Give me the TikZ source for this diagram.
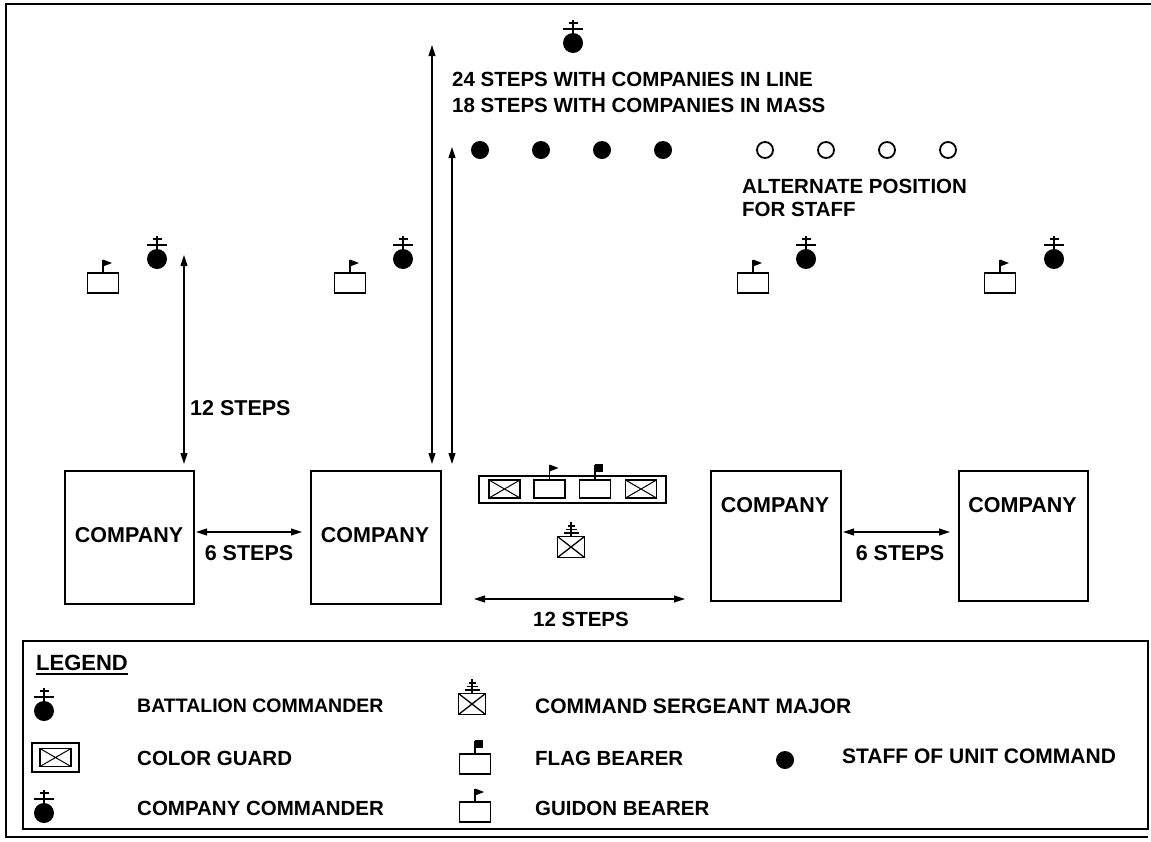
\documentclass[tikz,border=0pt]{standalone}
\usepackage{fontspec}
\setmainfont{Liberation Sans}
\usetikzlibrary{arrows.meta,calc}
\begin{document}
\begin{tikzpicture}[x=1pt,y=-1pt,
  lbl/.style={font=\bfseries\fontsize{20.5}{24}\selectfont, inner sep=0pt},
  lbll/.style={lbl, anchor=west},
  big/.style={font=\bfseries\fontsize{21.5}{25}\selectfont},
  dim/.style={{Triangle[length=11pt,width=7pt]}-{Triangle[length=11pt,width=7pt]}, line width=1.1pt},
  sym/.style={line width=1.7pt},
  cobox/.style={draw, line width=1.6pt, inner sep=0pt, anchor=north west},
  commander/.pic={
    \fill (0,0) circle (10);
    \draw[sym] (0,-8) -- (0,-23.5);
    \draw[sym] (-4.5,-20) -- (4.5,-20);
    \draw[sym] (-10,-14) -- (10,-14);
  },
  guidon/.pic={
    \draw[sym] (-15.5,-10) rectangle (15.5,10);
    \draw[sym] (0,-10) -- (0,-23);
    \fill (0,-23.5) -- (9,-20) -- (0,-16.5) -- cycle;
  },
  flagb/.pic={
    \draw[sym] (-15.5,-10) rectangle (15.5,10);
    \draw[sym] (0,-10) -- (0,-23);
    \fill (0,-24) rectangle (8,-16.5);
  },
  csm/.pic={
    \draw[sym] (-13.5,-10.5) rectangle (13.5,10.5);
    \draw[line width=1.3pt] (-13.5,-10.5) -- (13.5,10.5) (-13.5,10.5) -- (13.5,-10.5);
    \draw[sym] (0,-10.5) -- (0,-25.5);
    \draw[sym] (-3.5,-21) -- (3.5,-21);
    \draw[sym] (-5.5,-17.5) -- (5.5,-17.5);
    \draw[sym] (-7.5,-14) -- (7.5,-14);
  },
  xbox/.pic={
    \draw[line width=1.2pt] (-15.5,-9) rectangle (15.5,9);
    \draw[line width=1pt] (-15.5,-9) -- (15.5,9) (-15.5,9) -- (15.5,-9);
  },
  pbox/.pic={
    \draw[line width=1.2pt] (-15.5,-9) rectangle (15.5,9);
  },
  staff/.style={circle, fill, inner sep=0pt, minimum size=18pt},
  altstaff/.style={circle, draw, line width=1.8pt, inner sep=0pt, minimum size=16pt},
]
\useasboundingbox (0,0) rectangle (1151,841);
\fill[white] (0,0) rectangle (1151,841);

% outer frame
\draw[line width=2.5pt] (1151,4) -- (6,4) -- (6,837) -- (1148,837);

% battalion commander (top)
\coordinate (bc) at (573,43);
\pic at (bc) {commander};

% long dimension arrows
\coordinate (a1s) at (432,45);
\coordinate (a1e) at (432,464);
\draw[dim] (a1s) -- (a1e);
\coordinate (a2s) at (452,147);
\coordinate (a2e) at (452,464);
\draw[dim] (a2s) -- (a2e);

\node[lbll] (t24) at (452,79) {24 STEPS WITH COMPANIES IN LINE};
\node[lbll] (t18) at (452,105) {18 STEPS WITH COMPANIES IN MASS};

% staff
\foreach \i/\x in {1/480,2/541,3/602,4/663}
  \node[staff] (s\i) at (\x,150) {};
\foreach \i/\x in {1/765,2/826,3/887,4/948}
  \node[altstaff] (o\i) at (\x,150) {};
\node[lbll] (alt1) at (742,186) {ALTERNATE POSITION};
\node[lbll] (alt2) at (742,209) {FOR STAFF};

% guidon bearers and company commanders
\foreach \i/\g/\c in {1/103/157,2/350/403,3/753/806,4/1000/1054}{
  \coordinate (g\i) at (\g,283);
  \pic at (g\i) {guidon};
  \coordinate (cc\i) at (\c,259);
  \pic at (cc\i) {commander};
}

% 12 steps vertical
\coordinate (a3s) at (184,255);
\coordinate (a3e) at (184,464);
\draw[dim] (a3s) -- (a3e);
\node[lbll, big] (t12v) at (190,408) {12 STEPS};

% companies
\node[cobox, minimum width=129pt, minimum height=133pt] (c1) at (64,470) {};
\node[cobox, minimum width=130pt, minimum height=133pt] (c2) at (310,470) {};
\node[cobox, minimum width=130pt, minimum height=130pt] (c3) at (710,470) {};
\node[cobox, minimum width=129pt, minimum height=130pt] (c4) at (958,470) {};
\node[lbl, big] (c1t) at (129,535) {COMPANY};
\node[lbl, big] (c2t) at (375,535) {COMPANY};
\node[lbl, big] (c3t) at (775,505) {COMPANY};
\node[lbl, big] (c4t) at (1022.5,505) {COMPANY};

\coordinate (d1s) at (196,532);
\coordinate (d1e) at (302,532);
\draw[dim] (d1s) -- (d1e);
\coordinate (d2s) at (843,532);
\coordinate (d2e) at (950,532);
\draw[dim] (d2s) -- (d2e);
\node[lbl, big] (t6a) at (249,553) {6 STEPS};
\node[lbl, big] (t6b) at (900,553) {6 STEPS};

% color guard
\node[draw, line width=2.5pt, minimum width=187pt, minimum height=27pt, inner sep=0pt] (cg) at (572.5,489.5) {};
\pic at (504.5,489) {xbox};
\pic at (549.5,489) {pbox};
\pic at (595,489) {pbox};
\pic at (641,489) {xbox};
\draw[sym] (549.5,480) -- (549.5,465);
\fill (549.5,464.5) -- (558.5,468) -- (549.5,471.5) -- cycle;
\draw[sym] (595,480) -- (595,465);
\fill (595,464) rectangle (603,471.5);

% CSM
\coordinate (csm) at (571,547);
\pic at (csm) {csm};

% 12 steps horizontal
\coordinate (a5s) at (474,599);
\coordinate (a5e) at (685,599);
\draw[dim] (a5s) -- (a5e);
\node[lbl] (t12h) at (581,619) {12 STEPS};

% legend
\node[draw, line width=2pt, minimum width=1125pt, minimum height=188pt, inner sep=0pt, anchor=north west] (leg) at (22,640) {};
\node[lbll, font=\bfseries\fontsize{22}{26}\selectfont] (legt) at (36,663) {LEGEND};
\draw[line width=1.5pt] ($(legt.south west)+(0,3)$) -- ($(legt.south east)+(0,3)$);

\coordinate (l1) at (44,711);
\pic at (l1) {commander};
\node[lbll, font=\bfseries\fontsize{19.5}{23}\selectfont] (l1t) at (137,706) {BATTALION COMMANDER};

\node[draw, line width=1.8pt, minimum width=47pt, minimum height=29pt, inner sep=0pt] (l2) at (55.5,757.5) {};
\pic at (l2) {xbox};
\node[lbll] (l2t) at (137,758) {COLOR GUARD};

\coordinate (l3) at (44,813);
\pic at (l3) {commander};
\node[lbll] (l3t) at (137,808) {COMPANY COMMANDER};

\coordinate (l4) at (472,704);
\pic at (l4) {csm};
\node[lbll, font=\bfseries\fontsize{21}{25}\selectfont] (l4t) at (535,706) {COMMAND SERGEANT MAJOR};

\coordinate (l5) at (475,764);
\pic at (l5) {flagb};
\node[lbll] (l5t) at (535,758) {FLAG BEARER};

\coordinate (l6) at (475,812);
\pic at (l6) {guidon};
\node[lbll] (l6t) at (535,808) {GUIDON BEARER};

\node[staff] (l7) at (785,760) {};
\node[lbll, font=\bfseries\fontsize{21}{25}\selectfont] (l7t) at (842,756.5) {STAFF OF UNIT COMMAND};

\end{tikzpicture}
\end{document}
